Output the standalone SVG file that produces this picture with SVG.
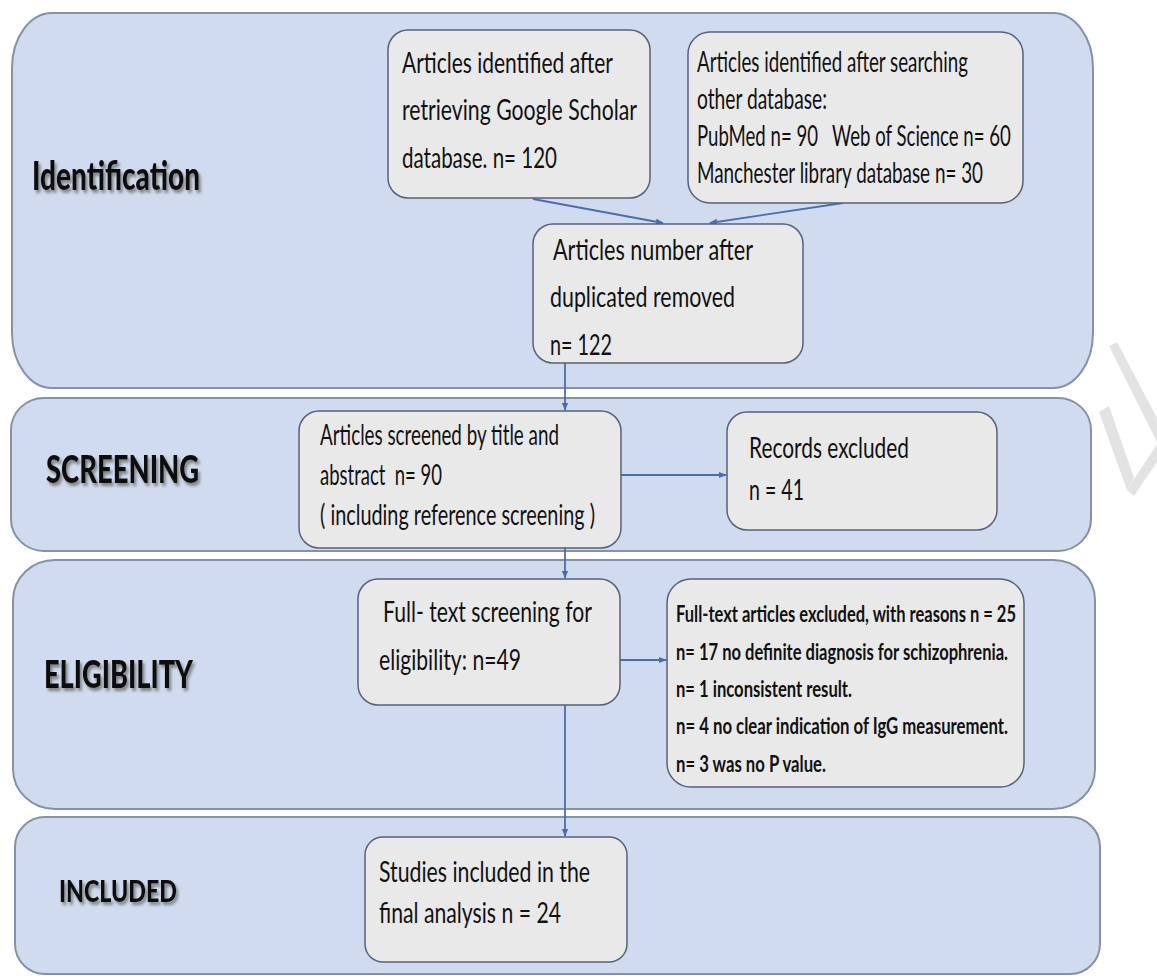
<svg xmlns="http://www.w3.org/2000/svg" width="1157" height="979" viewBox="0 0 1157 979">
<defs>
<marker id="arr" viewBox="0 0 10 10" refX="9" refY="5" markerWidth="8" markerHeight="8" markerUnits="userSpaceOnUse" orient="auto">
<path d="M0,1 L10,5 L0,9 z" fill="#4a6db0"/>
</marker>
<filter id="sh" x="-10%" y="-30%" width="130%" height="170%">
<feDropShadow dx="2" dy="3" stdDeviation="1.6" flood-color="#6a6a6a" flood-opacity="0.8"/>
</filter>
<style>
.panel{fill:#d0dbef;stroke:#8691a6;stroke-width:2}
.box{fill:#e9e9ea;stroke:#55627a;stroke-width:1.5}
.t{font-family:Lato,"Liberation Sans",sans-serif;font-size:28px;fill:#111}
.tb{font-family:Lato,"Liberation Sans",sans-serif;font-size:22px;font-weight:bold;fill:#111}
.lab{font-family:Lato,"Liberation Sans",sans-serif;font-weight:900;fill:#111;filter:url(#sh)}
.c{stroke:#4a6db0;stroke-width:1.8;fill:none;marker-end:url(#arr)}
.wm{fill:#e3e3e3}
</style>
</defs>
<rect width="1157" height="979" fill="#ffffff"/>

<g id="watermark">
<polygon class="wm" points="1109,346 1117,342 1157,418 1157,442"/>
<polygon class="wm" points="1099,412 1109,406 1134,478 1127,490"/>
<polygon class="wm" points="1157,444 1157,462 1134,496 1127,490"/>
</g>

<g id="panels">
<g id="panel-identification">
<rect class="panel" x="12" y="13" width="1081" height="375" rx="40" ry="55"/>
<text class="lab" x="32" y="190" font-size="40" textLength="168" lengthAdjust="spacingAndGlyphs">Identification</text>
</g>
<g id="panel-screening">
<rect class="panel" x="11" y="398" width="1080" height="153" rx="33" ry="32"/>
<text class="lab" x="46" y="483" font-size="38" textLength="153" lengthAdjust="spacingAndGlyphs">SCREENING</text>
</g>
<g id="panel-eligibility">
<rect class="panel" x="13" y="560" width="1082" height="249" rx="42" ry="40"/>
<text class="lab" x="44" y="688" font-size="38" textLength="149" lengthAdjust="spacingAndGlyphs">ELIGIBILITY</text>
</g>
<g id="panel-included">
<rect class="panel" x="15" y="817" width="1085" height="157" rx="30" ry="30"/>
<text class="lab" x="59" y="902" font-size="30" textLength="118" lengthAdjust="spacingAndGlyphs">INCLUDED</text>
</g>
</g>

<g id="connectors">
<line class="c" x1="533" y1="199" x2="663" y2="223"/>
<line class="c" x1="843" y1="203" x2="710" y2="223"/>
<line class="c" x1="565" y1="363" x2="565" y2="410"/>
<line class="c" x1="565" y1="548" x2="565" y2="578"/>
<line class="c" x1="621" y1="475" x2="726" y2="475"/>
<line class="c" x1="620" y1="660" x2="666" y2="660"/>
<line class="c" x1="565" y1="705" x2="565" y2="836"/>
</g>

<g id="node-google">
<rect class="box" x="388" y="30" width="262" height="168" rx="20"/>
<text class="t" x="402" y="73" textLength="211" lengthAdjust="spacingAndGlyphs">Articles identified after</text>
<text class="t" x="402" y="120" textLength="235" lengthAdjust="spacingAndGlyphs">retrieving Google Scholar</text>
<text class="t" x="402" y="168" textLength="155" lengthAdjust="spacingAndGlyphs">database. n= 120</text>
</g>

<g id="node-other">
<rect class="box" x="688" y="32" width="335" height="171" rx="22"/>
<text class="t" x="697" y="72" font-size="24" textLength="271" lengthAdjust="spacingAndGlyphs">Articles identified after searching</text>
<text class="t" x="697" y="109" font-size="24" textLength="130" lengthAdjust="spacingAndGlyphs">other database:</text>
<text class="t" transform="translate(697,146) scale(0.6,1)" x="0" y="0" font-size="24" textLength="523" lengthAdjust="spacingAndGlyphs" xml:space="preserve">PubMed n= 90   Web of Science n= 60</text>
<text class="t" x="697" y="183" font-size="24" textLength="286" lengthAdjust="spacingAndGlyphs">Manchester library database n= 30</text>
</g>

<g id="node-duplicates">
<rect class="box" x="533" y="224" width="270" height="139" rx="20"/>
<text class="t" x="553" y="260" textLength="200" lengthAdjust="spacingAndGlyphs">Articles number after</text>
<text class="t" x="550" y="307" textLength="185" lengthAdjust="spacingAndGlyphs">duplicated removed</text>
<text class="t" x="550" y="355" textLength="62" lengthAdjust="spacingAndGlyphs">n= 122</text>
</g>

<g id="node-screened">
<rect class="box" x="299" y="411" width="322" height="137" rx="20"/>
<text class="t" x="320" y="445" font-size="26" textLength="239" lengthAdjust="spacingAndGlyphs">Articles screened by title and</text>
<text class="t" x="320" y="485" font-size="26" textLength="122" lengthAdjust="spacingAndGlyphs" xml:space="preserve">abstract  n= 90</text>
<text class="t" x="320" y="525" font-size="26" textLength="275" lengthAdjust="spacingAndGlyphs">( including reference screening )</text>
</g>

<g id="node-records-excluded">
<rect class="box" x="727" y="412" width="270" height="118" rx="20"/>
<text class="t" x="749" y="458" textLength="160" lengthAdjust="spacingAndGlyphs">Records excluded</text>
<text class="t" x="749" y="500" textLength="55" lengthAdjust="spacingAndGlyphs">n = 41</text>
</g>

<g id="node-fulltext">
<rect class="box" x="358" y="579" width="262" height="126" rx="20"/>
<text class="t" x="383" y="622" textLength="209" lengthAdjust="spacingAndGlyphs">Full- text screening for</text>
<text class="t" x="379" y="670" textLength="142" lengthAdjust="spacingAndGlyphs">eligibility: n=49</text>
</g>

<g id="node-fulltext-excluded">
<rect class="box" x="667" y="579" width="357" height="208" rx="24"/>
<text class="tb" x="676" y="622" textLength="340" lengthAdjust="spacingAndGlyphs">Full-text articles excluded, with reasons n = 25</text>
<text class="tb" x="676" y="660" textLength="332" lengthAdjust="spacingAndGlyphs">n= 17 no definite diagnosis for schizophrenia.</text>
<text class="tb" x="676" y="697" textLength="176" lengthAdjust="spacingAndGlyphs">n= 1 inconsistent result.</text>
<text class="tb" x="676" y="734" textLength="332" lengthAdjust="spacingAndGlyphs">n= 4 no clear indication of IgG measurement.</text>
<text class="tb" x="676" y="772" textLength="150" lengthAdjust="spacingAndGlyphs">n= 3 was no P value.</text>
</g>

<g id="node-included">
<rect class="box" x="365" y="837" width="262" height="125" rx="18"/>
<text class="t" x="379" y="882" textLength="211" lengthAdjust="spacingAndGlyphs">Studies included in the</text>
<text class="t" x="379" y="923" textLength="182" lengthAdjust="spacingAndGlyphs">final analysis n = 24</text>
</g>
</svg>
